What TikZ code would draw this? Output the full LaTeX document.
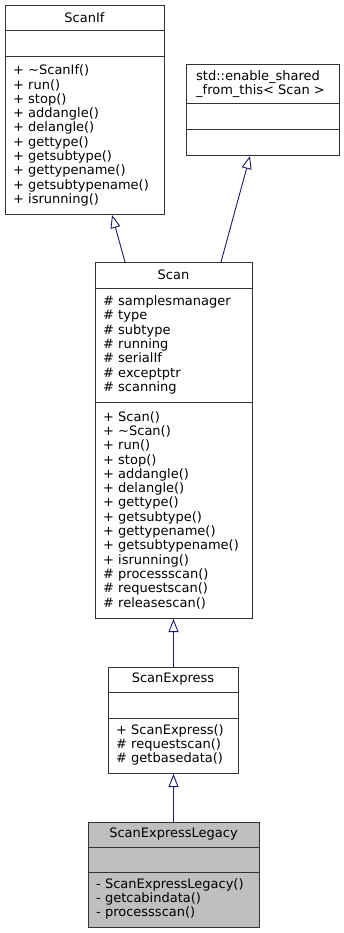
\documentclass[tikz,border=0pt]{standalone}
\usepackage{fontspec}
\setmainfont{DejaVu Sans}
\usetikzlibrary{arrows.meta,calc}

\definecolor{edgeblue}{HTML}{191970}
\definecolor{boxline}{HTML}{333333}
\definecolor{focusfill}{HTML}{BFBFBF}

\begin{document}
\begin{tikzpicture}[x=1pt, y=-1pt,
    classbox/.style={draw=boxline, line width=1pt, fill=white, anchor=north west, inner sep=0pt},
    divider/.style={draw=boxline, line width=1pt},
    cname/.style={font=\fontsize{13}{14.5}\selectfont, align=left, inner sep=0pt},
    members/.style={font=\fontsize{13}{14.3}\selectfont, align=left, anchor=west, inner sep=0pt},
    inherit/.style={draw=edgeblue, line width=0.9pt, -{Triangle[open, length=13pt, width=10pt]}}
]
\useasboundingbox (0,0) rectangle (344,933);

% base classes
\node[classbox, minimum width=159pt, minimum height=209pt] (scanif) at (5,5) {};
\draw[divider] (5,31) -- (164,31);
\draw[divider] (5,57) -- (164,57);
\node[cname] (scanif-name) at (84.5,18) {ScanIf};
\node[members] (scanif-ops) at (13,135.5) {+ \textasciitilde ScanIf()\\+ run()\\+ stop()\\+ addangle()\\+ delangle()\\+ gettype()\\+ getsubtype()\\+ gettypename()\\+ getsubtypename()\\+ isrunning()};

\node[classbox, minimum width=153pt, minimum height=91pt] (shared) at (186,64) {};
\draw[divider] (186,104) -- (339,104);
\draw[divider] (186,130) -- (339,130);
\node[cname, anchor=west] (shared-name) at (196,84) {std::enable\_shared\\\_from\_this< Scan >};

% Scan
\node[classbox, minimum width=157pt, minimum height=356pt] (scan) at (95,262) {};
\draw[divider] (95,288) -- (252,288);
\draw[divider] (95,402) -- (252,402);
\node[cname] (scan-name) at (173.5,275) {Scan};
\node[members] (scan-attrs) at (103,345) {\# samplesmanager\\\# type\\\# subtype\\\# running\\\# serialIf\\\# exceptptr\\\# scanning};
\node[members] (scan-ops) at (103,510) {+ Scan()\\+ \textasciitilde Scan()\\+ run()\\+ stop()\\+ addangle()\\+ delangle()\\+ gettype()\\+ getsubtype()\\+ gettypename()\\+ getsubtypename()\\+ isrunning()\\\# processscan()\\\# requestscan()\\\# releasescan()};

% ScanExpress
\node[classbox, minimum width=130pt, minimum height=106pt] (express) at (108,667) {};
\draw[divider] (108,692) -- (238,692);
\draw[divider] (108,718) -- (238,718);
\node[cname] (express-name) at (173,679.5) {ScanExpress};
\node[members] (express-ops) at (116,745) {+ ScanExpress()\\\# requestscan()\\\# getbasedata()};

% ScanExpressLegacy
\node[classbox, fill=focusfill, minimum width=171pt, minimum height=105pt] (legacy) at (88,822) {};
\draw[divider] (88,847) -- (259,847);
\draw[divider] (88,872) -- (259,872);
\node[cname] (legacy-name) at (173.5,834.5) {ScanExpressLegacy};
\node[members] (legacy-ops) at (96,899) {- ScanExpressLegacy()\\- getcabindata()\\- processscan()};

% inheritance
\draw[inherit] ($(scan.north west)+(30,0)$) -- ($(scanif.south west)+(107,0)$);
\draw[inherit] ($(scan.north west)+(126,0)$) -- ($(shared.south west)+(64,0)$);
\draw[inherit] (express.north) -- (scan.south -| express.north);
\draw[inherit] (express.north |- legacy.north) -- (express.south);
\end{tikzpicture}
\end{document}
